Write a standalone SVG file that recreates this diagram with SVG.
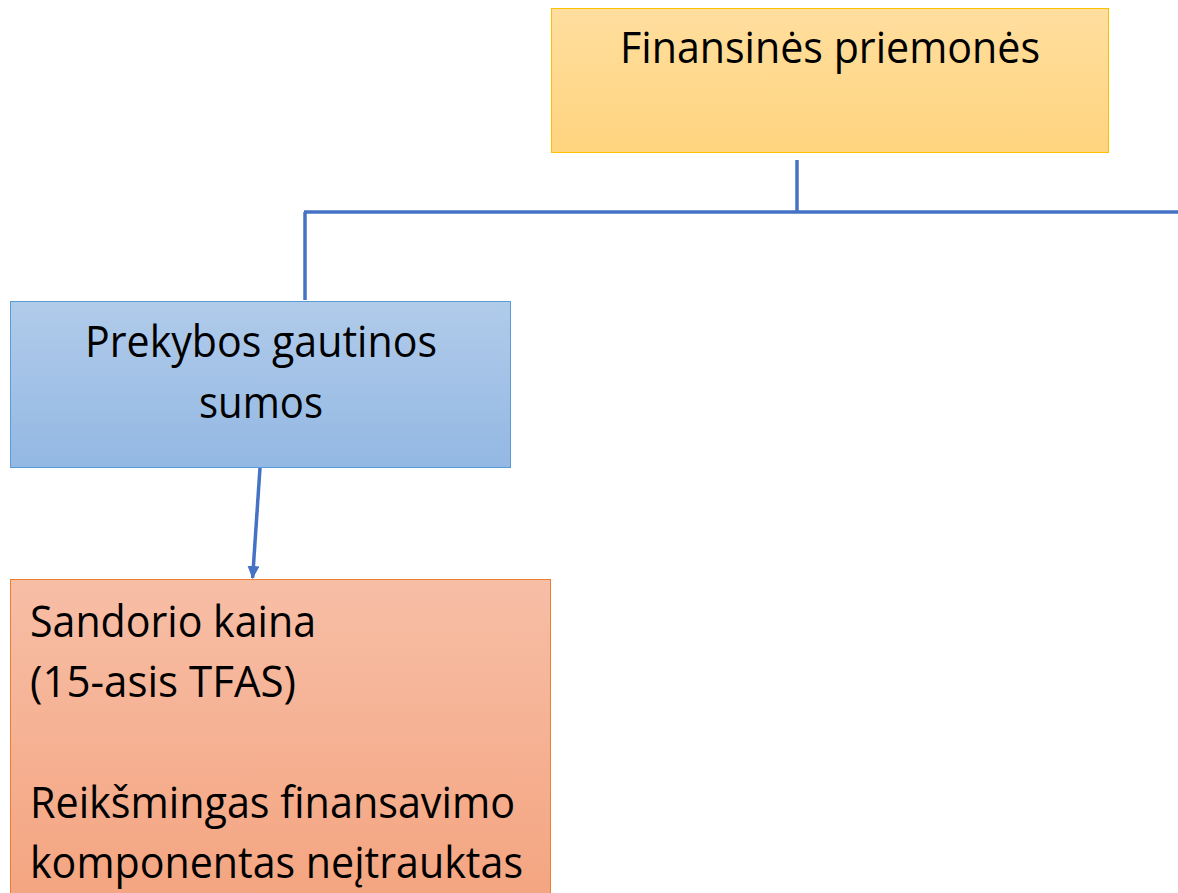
<svg xmlns="http://www.w3.org/2000/svg" width="1178" height="893" viewBox="0 0 1178 893">
<defs>
<linearGradient id="gY" x1="0" y1="0" x2="0" y2="1"><stop offset="0" stop-color="#FFDE9E"/><stop offset="1" stop-color="#FFD47E"/></linearGradient>
<linearGradient id="gB" x1="0" y1="0" x2="0" y2="1"><stop offset="0" stop-color="#B1CBEA"/><stop offset="1" stop-color="#93B8E3"/></linearGradient>
<linearGradient id="gO" x1="0" y1="0" x2="0" y2="1"><stop offset="0" stop-color="#F7BEA6"/><stop offset="1" stop-color="#F4A47F"/></linearGradient>
<marker id="arr" markerWidth="14" markerHeight="14" refX="12" refY="6" orient="auto" markerUnits="userSpaceOnUse"><path d="M0,0 L13,6 L0,12 z" fill="#4472C4"/></marker>
<style>
.t{font-family:"Open Sans","Liberation Sans",sans-serif;font-size:43px;fill:#000}
.c{stroke:#4472C4;stroke-width:3.5;fill:none}
</style>
</defs>
<g id="connectors">
<line class="c" x1="797" y1="160" x2="797" y2="212"/>
<line class="c" x1="304" y1="212" x2="1178" y2="212"/>
<line class="c" x1="305" y1="212" x2="305" y2="300"/>
<line class="c" x1="260" y1="468" x2="252.6" y2="578" marker-end="url(#arr)"/>
</g>
<g id="finansines">
<rect x="551.5" y="8.5" width="557" height="144" fill="url(#gY)" stroke="#FFC000" stroke-width="1"/>
<text class="t" x="830" y="63" text-anchor="middle" textLength="420" lengthAdjust="spacingAndGlyphs">Finansinės priemonės</text>
</g>
<g id="prekybos">
<rect x="10.5" y="301.5" width="500" height="166" fill="url(#gB)" stroke="#5B9BD5" stroke-width="1"/>
<text class="t" x="261" y="357" text-anchor="middle" textLength="352" lengthAdjust="spacingAndGlyphs">Prekybos gautinos</text>
<text class="t" x="261" y="418" text-anchor="middle" textLength="124" lengthAdjust="spacingAndGlyphs">sumos</text>
</g>
<g id="sandorio">
<rect x="10.5" y="579.5" width="540" height="330" fill="url(#gO)" stroke="#ED7D31" stroke-width="1"/>
<text class="t" x="30" y="637" textLength="286" lengthAdjust="spacingAndGlyphs">Sandorio kaina</text>
<text class="t" x="30" y="697" textLength="266" lengthAdjust="spacingAndGlyphs">(15-asis TFAS)</text>
<text class="t" x="30" y="818" textLength="485" lengthAdjust="spacingAndGlyphs">Reikšmingas finansavimo</text>
<text class="t" x="30" y="878" textLength="493" lengthAdjust="spacingAndGlyphs">komponentas neįtrauktas</text>
</g>
</svg>
